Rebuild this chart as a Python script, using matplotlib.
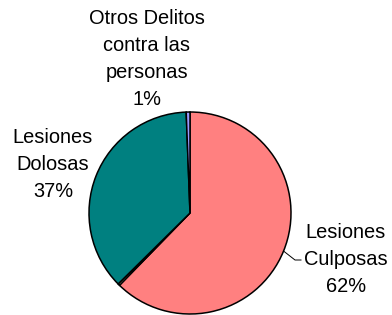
import matplotlib.pyplot as plt
import numpy as np

# Daten
kategorien = ["Lesiones\nCulposas", "", "Lesiones\nDolosas", "Otros Delitos\ncontra las\npersonas"]
werte = [62.3, 0.3, 36.8, 0.6]
farben = ["#FF8080", "#FFFFCC", "#008080", "#9999FF"]

plt.rcParams['font.family'] = ['Liberation Sans', 'DejaVu Sans']

fig = plt.figure(figsize=(3.92, 3.15), dpi=100)
ax = fig.add_axes([0, 0, 1, 1])

mitte = (190, 102)
radius = 101

wedges, _ = ax.pie(werte, colors=farben, startangle=90, counterclock=False,
                   center=mitte, radius=radius, frame=True,
                   wedgeprops=dict(edgecolor='black', linewidth=1.1))
ax.set_xlim(0, 392)
ax.set_ylim(0, 315)
ax.set_aspect('equal')
ax.axis('off')

# Beschriftungen (Position des Textblocks, Grundlinie der letzten Zeile)
label_pos = {0: (346, 23), 2: (53, 118), 3: (147, 210)}
for i, (x, y) in label_pos.items():
    txt = f"{kategorien[i]}\n{round(werte[i])}%"
    ax.text(x, y, txt, ha='center', va='baseline', fontsize=14.4,
            linespacing=1.54, color='black')

# Führungslinie für Lesiones Culposas
w = wedges[0]
theta = np.deg2rad((w.theta1 + w.theta2) / 2)
x0 = mitte[0] + radius * np.cos(theta)
y0 = mitte[1] + radius * np.sin(theta)
ax.plot([x0, 295, 301], [y0, 55, 55], color='black', linewidth=0.7)

fig.savefig("out.png", dpi=100)
